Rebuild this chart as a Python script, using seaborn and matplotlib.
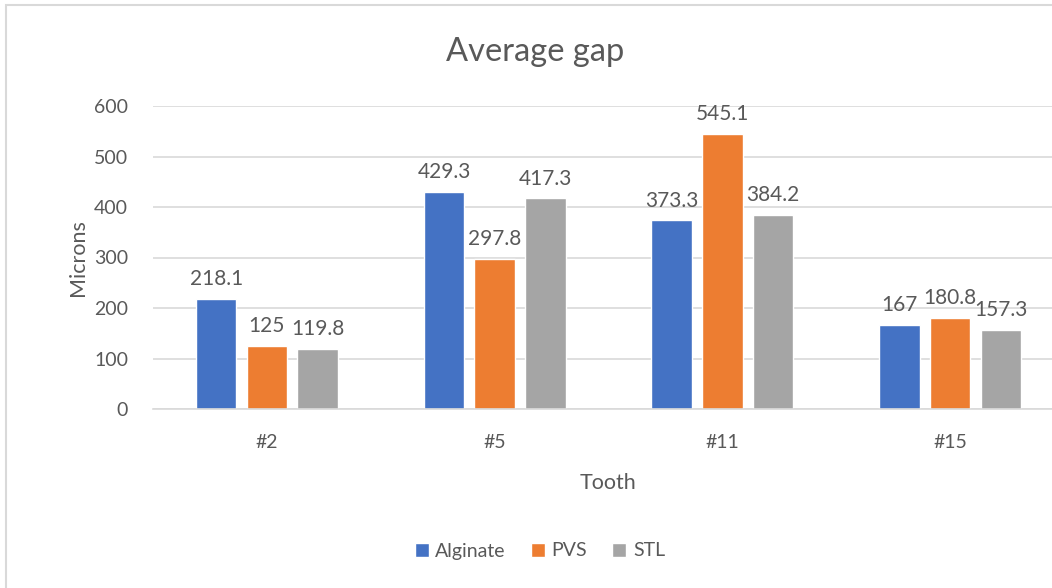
import matplotlib
matplotlib.use("Agg")
import matplotlib.pyplot as plt
from matplotlib.patches import Rectangle
import seaborn as sns
import pandas as pd

teeth = ["#2", "#5", "#11", "#15"]
alginate = [218.1, 429.3, 373.3, 167]
pvs = [125, 297.8, 545.1, 180.8]
stl = [119.8, 417.3, 384.2, 157.3]
materials = ["Alginate", "PVS", "STL"]
colors = ["#4472C4", "#ED7D31", "#A5A5A5"]
y_ticks = [0, 100, 200, 300, 400, 500, 600]

df = pd.DataFrame({
    "Tooth": teeth * 3,
    "Material": [m for m in materials for _ in teeth],
    "Microns": alginate + pvs + stl,
})

sns.set_theme(style="white")
plt.rcParams["font.family"] = ["Lato", "DejaVu Sans"]
text_color = "#595959"
grid_color = "#D9D9D9"

W, H = 1052, 588
fig = plt.figure(figsize=(W / 100, H / 100), dpi=100)
fig.patch.set_facecolor("white")

# chart frame
fig.patches.append(Rectangle((6 / W, -0.1), 1.2, (H - 5) / H + 0.1,
                             transform=fig.transFigure, fill=False,
                             edgecolor=grid_color, linewidth=1.5))

left, right = 153, 1064
top, bottom = 106, 409
ax = fig.add_axes([left / W, 1 - bottom / H, (right - left) / W, (bottom - top) / H])

sns.barplot(data=df, x="Tooth", y="Microns", hue="Material", order=teeth,
            hue_order=materials, palette=colors, width=0.667, gap=0.2,
            saturation=1, ax=ax, legend=True, errorbar=None)

ax.set_ylim(0, 600)
ax.set_xlim(-0.5, 3.5)
ax.set_yticks(y_ticks)
ax.yaxis.grid(True, color=grid_color, linewidth=1.2)
ax.set_axisbelow(True)
for s in ["top", "right", "left"]:
    ax.spines[s].set_visible(False)
ax.spines["bottom"].set_color(grid_color)
ax.spines["bottom"].set_linewidth(1.2)
ax.tick_params(axis="both", length=0, labelsize=14, colors=text_color)
ax.tick_params(axis="y", pad=18)
ax.tick_params(axis="x", pad=18)

ax.set_xlabel("Tooth", fontsize=15.5, color=text_color, labelpad=16)
ax.set_ylabel("Microns", fontsize=15.5, color=text_color, labelpad=4)
fig.text(535 / W, 1 - 52 / H, "Average gap", ha="center", va="center",
         fontsize=23.5, color=text_color)

for container in ax.containers:
    ax.bar_label(container, labels=[f"{v:g}" for v in container.datavalues],
                 padding=7, fontsize=15, color=text_color)

handles, labels = ax.get_legend_handles_labels()
ax.legend_.remove()
fig.legend(handles, labels, loc="center", bbox_to_anchor=(540 / W, 1 - 551 / H),
           ncol=3, frameon=False, fontsize=14, labelcolor=text_color,
           handlelength=0.7, handleheight=0.7, handletextpad=0.35,
           columnspacing=1.3)

fig.savefig("out.png", dpi=100)
